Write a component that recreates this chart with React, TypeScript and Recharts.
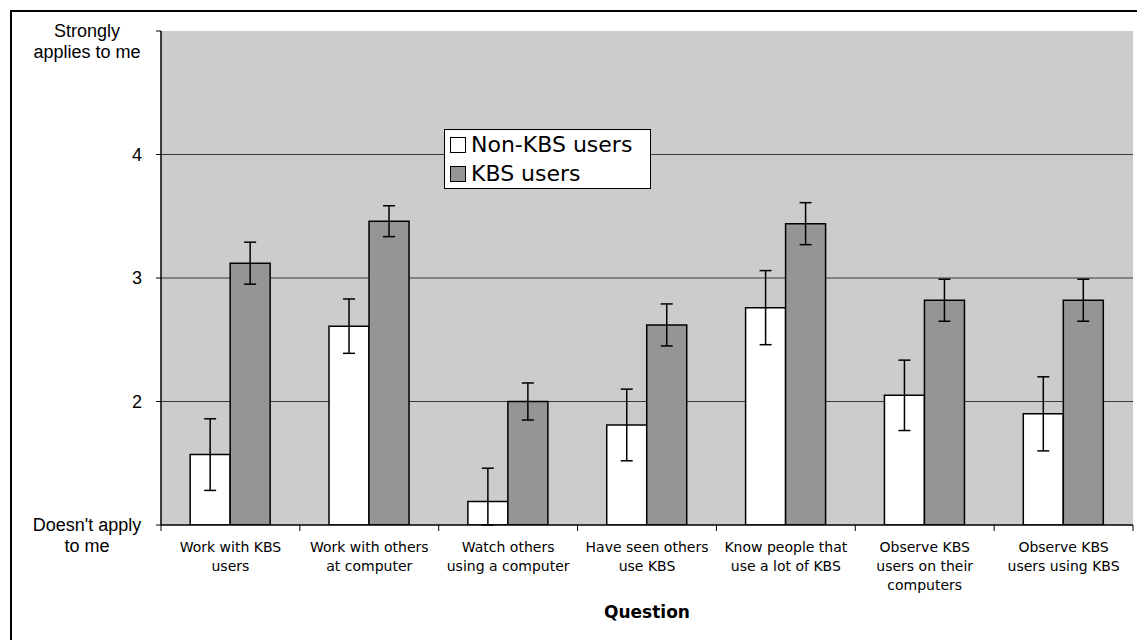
import React from 'react';
import {
  BarChart,
  Bar,
  XAxis,
  YAxis,
  ErrorBar,
  CartesianGrid,
  Legend,
  Label
} from 'recharts';

// categories on the x axis
const categories = [
  'Work with KBS users',
  'Work with others at computer',
  'Watch others using a computer',
  'Have seen others use KBS',
  'Know people that use a lot of KBS',
  'Observe KBS users on their computers',
  'Observe KBS users using KBS'
];
// how each category label wraps
const categoryLines = [
  ['Work with KBS', 'users'],
  ['Work with others', 'at computer'],
  ['Watch others', 'using a computer'],
  ['Have seen others', 'use KBS'],
  ['Know people that', 'use a lot of KBS'],
  ['Observe KBS', 'users on their', 'computers'],
  ['Observe KBS', 'users using KBS']
];

const nonKbsMeans = [1.57, 2.61, 1.19, 1.81, 2.76, 2.05, 1.9];
const nonKbsErrors = [0.29, 0.22, 0.27, 0.29, 0.3, 0.285, 0.3];
const kbsMeans = [3.12, 3.46, 2.0, 2.62, 3.44, 2.82, 2.82];
const kbsErrors = [0.17, 0.125, 0.15, 0.17, 0.17, 0.17, 0.17];

const Y_MIN = 1;
const yTicks = [1, 2, 3, 4, 5];
const yTickLabels: Record<number, string[]> = {
  1: ["Doesn't apply", 'to me'],
  2: ['2'],
  3: ['3'],
  4: ['4'],
  5: ['Strongly', 'applies to me']
};
const gridValues = [2, 3, 4];

const seriesNames = ['Non-KBS users', 'KBS users'];
const seriesColors = ['#ffffff', '#959595'];

// error bars get cut off at the bottom of the scale, like the original
const errRange = (mean: number, err: number) => [Math.min(err, mean - Y_MIN), err];

const data = categories.map((name, i) => ({
  name,
  nonKbs: nonKbsMeans[i],
  nonKbsErr: errRange(nonKbsMeans[i], nonKbsErrors[i]),
  kbs: kbsMeans[i],
  kbsErr: errRange(kbsMeans[i], kbsErrors[i])
}));

const XTick = (props: any) => {
  const { x, y, payload } = props;
  const idx = categories.indexOf(payload.value);
  const half = payload.offset || 69.4;
  const lines = categoryLines[idx] || [payload.value];
  return (
    <g>
      <line x1={x - half} y1={y} x2={x - half} y2={y + 6} stroke="#000" />
      {idx === categories.length - 1 && (
        <line x1={x + half} y1={y} x2={x + half} y2={y + 6} stroke="#000" />
      )}
      <text
        x={x}
        y={y + 27}
        textAnchor="middle"
        fontFamily="'DejaVu Sans', Verdana, sans-serif"
        fontSize={14}
        fill="#000"
      >
        {lines.map((l, i) => (
          <tspan key={i} x={x} dy={i === 0 ? 0 : 19}>
            {l}
          </tspan>
        ))}
      </text>
    </g>
  );
};

const YTick = (props: any) => {
  const { x, y, payload } = props;
  const lines = yTickLabels[payload.value] || [String(payload.value)];
  const font = "'Liberation Sans', Arial, sans-serif";
  if (lines.length === 1) {
    return (
      <text x={x - 14} y={y} dy="0.35em" textAnchor="end" fontFamily={font} fontSize={18} fill="#000">
        {lines[0]}
      </text>
    );
  }
  return (
    <text x={x - 69} y={y} textAnchor="middle" fontFamily={font} fontSize={18} fill="#000">
      {lines.map((l, i) => (
        <tspan key={i} x={x - 69} dy={i === 0 ? '0.35em' : 20.5}>
          {l}
        </tspan>
      ))}
    </text>
  );
};

const LegendBox = () => (
  <div
    style={{
      boxSizing: 'border-box',
      width: 207,
      border: '1px solid #000',
      background: '#fff',
      paddingLeft: 5,
      fontFamily: "'DejaVu Sans', Verdana, sans-serif",
      fontSize: 22,
      lineHeight: '29px',
      color: '#000',
      textAlign: 'left'
    }}
  >
    {seriesNames.map((n, i) => (
      <div key={n} style={{ display: 'flex', alignItems: 'center' }}>
        <span
          style={{
            display: 'inline-block',
            width: 14,
            height: 14,
            border: '1px solid #000',
            background: seriesColors[i],
            marginRight: 5
          }}
        />
        {n}
      </div>
    ))}
  </div>
);

export default function App() {
  return (
    <div style={{ position: 'relative', width: 1137, height: 632, overflow: 'hidden' }}>
      <div
        style={{
          position: 'absolute',
          left: 2,
          top: 2,
          width: 2000,
          height: 2000,
          borderTop: '2px solid #000',
          borderLeft: '2px solid #000'
        }}
      />
      <BarChart
        width={1137}
        height={632}
        data={data}
        margin={{ top: 23, right: 12, bottom: 0, left: 0 }}
        barCategoryGap="21%"
        barGap={0}
        style={{ position: 'absolute', left: 0, top: 0 }}
      >
        <CartesianGrid
          fill="#cccccc"
          vertical={false}
          horizontalValues={gridValues}
          stroke="#383838"
          strokeWidth={1.2}
        />
        <XAxis
          dataKey="name"
          height={115}
          interval={0}
          tickSize={0}
          tickMargin={0}
          tickLine={false}
          axisLine={{ stroke: '#000', strokeWidth: 1.5 }}
          tick={<XTick />}
        >
          <Label
            value="Question"
            position="insideBottom"
            offset={22}
            fontFamily="'DejaVu Sans', Verdana, sans-serif"
            fontWeight="bold"
            fontSize={17}
            fill="#000"
          />
        </XAxis>
        <XAxis
          xAxisId="top"
          dataKey="name"
          orientation="top"
          height={0}
          tick={false}
          tickLine={false}
          axisLine={{ stroke: '#999' }}
        />
        <YAxis
          domain={[1, 5]}
          ticks={yTicks}
          allowDataOverflow
          width={153}
          tickSize={5}
          tickMargin={0}
          tickLine={{ stroke: '#000' }}
          axisLine={{ stroke: '#000', strokeWidth: 1.5 }}
          tick={<YTick />}
        />
        <YAxis
          yAxisId="right"
          orientation="right"
          domain={[1, 5]}
          width={0}
          tick={false}
          tickLine={false}
          axisLine={{ stroke: '#999' }}
        />
        <Legend
          layout="vertical"
          align="center"
          verticalAlign="middle"
          wrapperStyle={{ left: 436, top: 121, width: 'auto' }}
          content={() => <LegendBox />}
        />
        <Bar dataKey="nonKbs" name={seriesNames[0]} fill={seriesColors[0]} stroke="#000" strokeWidth={1.5} isAnimationActive={false}>
          <ErrorBar dataKey="nonKbsErr" direction="y" width={6} stroke="#000" strokeWidth={1.5} />
        </Bar>
        <Bar dataKey="kbs" name={seriesNames[1]} fill={seriesColors[1]} stroke="#000" strokeWidth={1.5} isAnimationActive={false}>
          <ErrorBar dataKey="kbsErr" direction="y" width={6} stroke="#000" strokeWidth={1.5} />
        </Bar>
      </BarChart>
    </div>
  );
}
